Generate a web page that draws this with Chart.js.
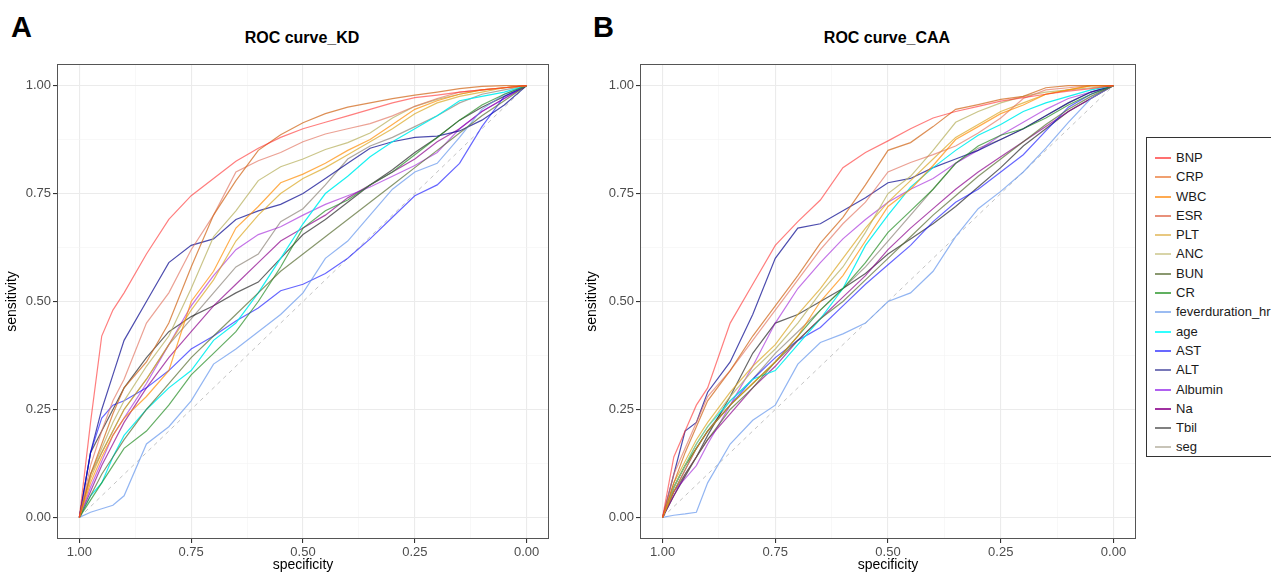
<!DOCTYPE html>
<html lang="en">
<head>
<meta charset="UTF-8">
<title>ROC curves KD / CAA</title>
<script src="https://cdn.jsdelivr.net/npm/chart.js"></script>
<style>
    body {
        margin: 0;
        width: 1271px;
        height: 574px;
        overflow: hidden;
        background: #fff;
        font-family: 'Liberation Sans', Arial, sans-serif;
        position: relative;
    }
    canvas { position: absolute; top: 0; }
    .tag { position: absolute; font-weight: bold; font-size: 29px; line-height: 1; color: #000; }
    .ttl { position: absolute; font-weight: bold; font-size: 16px; line-height: 1; color: #000; transform: translateX(-50%); white-space: nowrap; }
    #legend {
        position: absolute; left: 1146px; top: 137px; width: 140px; height: 320px;
        border: 1px solid #333; box-sizing: border-box; padding-top: 10px;
    }
    .item { position: relative; height: 19.3px; font-size: 13px; line-height: 19.3px; color: #1a1a1a; }
    .item span.sw { position: absolute; left: 8px; top: 9px; width: 16px; height: 2px; }
    .item span.lb { position: absolute; left: 29px; }
</style>
</head>
<body>
<div class="tag" style="left:11px; top:13px;">A</div>
<div class="tag" style="left:593px; top:13px;">B</div>
<div class="ttl" style="left:302px; top:30px;">ROC curve_KD</div>
<div class="ttl" style="left:887px; top:30px;">ROC curve_CAA</div>
<canvas id="kd" width="560" height="574" style="left:0px"></canvas>
<canvas id="caa" width="560" height="574" style="left:580px"></canvas>
<div id="legend"></div>

<script>
// specificity grid shared by every curve (x axis, reversed)
const spec = [1, 0.975, 0.95, 0.925, 0.9, 0.85, 0.8, 0.75, 0.7, 0.65, 0.6, 0.55, 0.5, 0.45, 0.4, 0.35, 0.3, 0.25, 0.2, 0.15, 0.1, 0.05, 0];

const markers = ['BNP', 'CRP', 'WBC', 'ESR', 'PLT', 'ANC', 'BUN', 'CR', 'feverduration_hr', 'age', 'AST', 'ALT', 'Albumin', 'Na', 'Tbil', 'seg'];
const lineColors = [
    'rgba(255,40,40,0.6)', 'rgba(210,105,30,0.75)', 'rgba(255,140,0,0.7)', 'rgba(225,110,90,0.65)',
    'rgba(218,165,32,0.7)', 'rgba(189,183,107,0.8)', 'rgba(85,107,47,0.7)', 'rgba(34,139,34,0.7)',
    'rgba(100,149,237,0.7)', 'rgba(0,240,240,0.9)', 'rgba(0,0,255,0.6)', 'rgba(0,0,139,0.7)',
    'rgba(148,0,211,0.55)', 'rgba(139,0,139,0.7)', 'rgba(0,0,0,0.6)', 'rgba(139,131,120,0.7)'
];
// lighter swatches as they appear in the legend
const swatchColors = [
    '#ff7070', '#f0a070', '#ffaa50', '#e8907a', '#e8c880', '#d8d4a8', '#8a9870', '#60b060',
    '#9bbcf2', '#30ffff', '#6868ff', '#7878b8', '#b060f0', '#a030a0', '#808080', '#c8c4b8'
];

// panel A: KD (sensitivity at each spec value)
const kdBNP     = [0, 0.22, 0.42, 0.48, 0.52, 0.61, 0.69, 0.745, 0.785, 0.825, 0.855, 0.88, 0.9, 0.915, 0.93, 0.945, 0.96, 0.972, 0.978, 0.985, 0.99, 0.995, 1];
const kdCRP     = [0, 0.1, 0.17, 0.24, 0.3, 0.36, 0.45, 0.58, 0.7, 0.78, 0.85, 0.886, 0.914, 0.935, 0.95, 0.96, 0.97, 0.978, 0.985, 0.993, 0.998, 1, 1];
const kdWBC     = [0, 0.08, 0.14, 0.19, 0.23, 0.28, 0.34, 0.5, 0.57, 0.67, 0.72, 0.775, 0.795, 0.82, 0.85, 0.875, 0.91, 0.945, 0.965, 0.98, 0.99, 0.995, 1];
const kdESR     = [0, 0.12, 0.2, 0.27, 0.32, 0.45, 0.52, 0.62, 0.7, 0.8, 0.826, 0.845, 0.87, 0.888, 0.9, 0.912, 0.93, 0.952, 0.97, 0.985, 0.99, 0.995, 1];
const kdPLT     = [0, 0.09, 0.15, 0.2, 0.25, 0.32, 0.4, 0.48, 0.55, 0.64, 0.7, 0.75, 0.785, 0.81, 0.84, 0.87, 0.9, 0.935, 0.96, 0.975, 0.985, 0.995, 1];
const kdANC     = [0, 0.1, 0.16, 0.22, 0.27, 0.35, 0.42, 0.53, 0.65, 0.71, 0.78, 0.812, 0.83, 0.852, 0.868, 0.89, 0.925, 0.952, 0.968, 0.98, 0.99, 0.995, 1];
const kdBUN     = [0, 0.05, 0.1, 0.14, 0.18, 0.25, 0.31, 0.37, 0.42, 0.47, 0.52, 0.57, 0.61, 0.65, 0.69, 0.73, 0.77, 0.81, 0.85, 0.89, 0.93, 0.965, 1];
const kdCR      = [0, 0.04, 0.08, 0.12, 0.16, 0.2, 0.26, 0.33, 0.38, 0.43, 0.5, 0.58, 0.67, 0.71, 0.735, 0.77, 0.8, 0.84, 0.88, 0.92, 0.955, 0.98, 1];
const kdFever   = [0, 0.012, 0.02, 0.028, 0.05, 0.17, 0.21, 0.27, 0.355, 0.39, 0.43, 0.47, 0.52, 0.6, 0.64, 0.7, 0.76, 0.8, 0.82, 0.88, 0.945, 0.98, 1];
const kdAge     = [0, 0.05, 0.08, 0.14, 0.19, 0.25, 0.3, 0.34, 0.41, 0.45, 0.52, 0.6, 0.68, 0.75, 0.79, 0.835, 0.87, 0.9, 0.93, 0.965, 0.975, 0.985, 1];
const kdAST     = [0, 0.15, 0.23, 0.26, 0.27, 0.3, 0.34, 0.39, 0.42, 0.455, 0.485, 0.525, 0.54, 0.565, 0.6, 0.645, 0.695, 0.745, 0.77, 0.82, 0.905, 0.975, 1];
const kdALT     = [0, 0.15, 0.25, 0.33, 0.41, 0.5, 0.59, 0.63, 0.645, 0.69, 0.71, 0.725, 0.75, 0.785, 0.82, 0.855, 0.87, 0.88, 0.883, 0.895, 0.92, 0.955, 1];
const kdAlbumin = [0, 0.07, 0.13, 0.19, 0.23, 0.31, 0.4, 0.49, 0.56, 0.62, 0.655, 0.673, 0.7, 0.725, 0.745, 0.765, 0.79, 0.815, 0.845, 0.9, 0.94, 0.97, 1];
const kdNa      = [0, 0.06, 0.12, 0.17, 0.22, 0.3, 0.37, 0.43, 0.49, 0.54, 0.59, 0.64, 0.67, 0.7, 0.74, 0.77, 0.8, 0.83, 0.87, 0.9, 0.94, 0.97, 1];
const kdTbil    = [0, 0.15, 0.2, 0.25, 0.3, 0.37, 0.43, 0.465, 0.49, 0.52, 0.545, 0.6, 0.655, 0.69, 0.73, 0.77, 0.805, 0.845, 0.88, 0.92, 0.95, 0.975, 1];
const kdSeg     = [0, 0.1, 0.15, 0.2, 0.25, 0.32, 0.4, 0.46, 0.52, 0.58, 0.61, 0.685, 0.715, 0.77, 0.83, 0.86, 0.88, 0.905, 0.93, 0.96, 0.98, 0.99, 1];

// panel B: CAA
const caaBNP     = [0, 0.14, 0.2, 0.26, 0.3, 0.45, 0.54, 0.63, 0.685, 0.735, 0.81, 0.845, 0.872, 0.9, 0.925, 0.94, 0.952, 0.964, 0.972, 0.98, 0.987, 0.993, 1];
const caaCRP     = [0, 0.08, 0.15, 0.21, 0.27, 0.34, 0.42, 0.49, 0.56, 0.635, 0.695, 0.77, 0.85, 0.868, 0.905, 0.945, 0.956, 0.968, 0.975, 0.995, 1, 1, 1];
const caaWBC     = [0, 0.06, 0.11, 0.16, 0.2, 0.26, 0.31, 0.36, 0.42, 0.5, 0.56, 0.64, 0.72, 0.76, 0.815, 0.875, 0.905, 0.935, 0.955, 0.98, 0.99, 1, 1];
const caaESR     = [0, 0.1, 0.16, 0.22, 0.28, 0.34, 0.41, 0.48, 0.55, 0.62, 0.68, 0.73, 0.8, 0.822, 0.84, 0.86, 0.89, 0.925, 0.97, 0.99, 0.995, 1, 1];
const caaPLT     = [0, 0.08, 0.13, 0.18, 0.22, 0.29, 0.35, 0.4, 0.47, 0.53, 0.6, 0.67, 0.73, 0.78, 0.83, 0.88, 0.91, 0.94, 0.96, 0.98, 0.99, 1, 1];
const caaANC     = [0, 0.07, 0.12, 0.17, 0.21, 0.28, 0.34, 0.39, 0.45, 0.52, 0.58, 0.66, 0.75, 0.79, 0.85, 0.915, 0.94, 0.96, 0.975, 0.985, 0.99, 0.995, 1];
const caaBUN     = [0, 0.06, 0.1, 0.14, 0.18, 0.25, 0.3, 0.36, 0.41, 0.46, 0.5, 0.55, 0.6, 0.65, 0.7, 0.745, 0.79, 0.83, 0.87, 0.91, 0.945, 0.975, 1];
const caaCR      = [0, 0.07, 0.12, 0.16, 0.2, 0.26, 0.31, 0.36, 0.42, 0.48, 0.53, 0.59, 0.66, 0.71, 0.76, 0.82, 0.86, 0.885, 0.9, 0.925, 0.955, 0.98, 1];
const caaFever   = [0, 0.005, 0.008, 0.012, 0.08, 0.17, 0.225, 0.26, 0.355, 0.405, 0.425, 0.45, 0.5, 0.52, 0.57, 0.65, 0.715, 0.755, 0.8, 0.855, 0.915, 0.97, 1];
const caaAge     = [0, 0.07, 0.12, 0.17, 0.21, 0.27, 0.32, 0.34, 0.4, 0.46, 0.53, 0.63, 0.7, 0.765, 0.81, 0.85, 0.885, 0.91, 0.94, 0.96, 0.975, 0.99, 1];
const caaAST     = [0, 0.06, 0.11, 0.16, 0.2, 0.26, 0.32, 0.37, 0.41, 0.44, 0.49, 0.54, 0.585, 0.63, 0.685, 0.73, 0.76, 0.8, 0.84, 0.895, 0.95, 0.98, 1];
const caaALT     = [0, 0.1, 0.2, 0.22, 0.29, 0.36, 0.47, 0.6, 0.67, 0.68, 0.71, 0.74, 0.775, 0.785, 0.81, 0.83, 0.85, 0.875, 0.9, 0.93, 0.96, 0.985, 1];
const caaAlbumin = [0, 0.06, 0.09, 0.12, 0.17, 0.26, 0.35, 0.45, 0.53, 0.59, 0.645, 0.69, 0.73, 0.76, 0.785, 0.82, 0.85, 0.885, 0.915, 0.945, 0.97, 0.985, 1];
const caaNa      = [0, 0.05, 0.1, 0.14, 0.18, 0.24, 0.3, 0.35, 0.41, 0.46, 0.51, 0.56, 0.62, 0.67, 0.715, 0.76, 0.8, 0.835, 0.87, 0.905, 0.94, 0.97, 1];
const caaTbil    = [0, 0.05, 0.095, 0.14, 0.19, 0.28, 0.38, 0.45, 0.47, 0.5, 0.53, 0.565, 0.61, 0.645, 0.68, 0.72, 0.765, 0.81, 0.86, 0.9, 0.94, 0.97, 1];
const caaSeg     = [0, 0.07, 0.12, 0.16, 0.2, 0.27, 0.32, 0.38, 0.43, 0.48, 0.53, 0.58, 0.64, 0.7, 0.76, 0.82, 0.855, 0.875, 0.9, 0.93, 0.96, 0.985, 1];

const kdCurves  = [kdBNP, kdCRP, kdWBC, kdESR, kdPLT, kdANC, kdBUN, kdCR, kdFever, kdAge, kdAST, kdALT, kdAlbumin, kdNa, kdTbil, kdSeg];
const caaCurves = [caaBNP, caaCRP, caaWBC, caaESR, caaPLT, caaANC, caaBUN, caaCR, caaFever, caaAge, caaAST, caaALT, caaAlbumin, caaNa, caaTbil, caaSeg];

// reference diagonal
const diagX = [1, 0];
const diagY = [0, 1];

const tickVals = [0, 0.125, 0.25, 0.375, 0.5, 0.625, 0.75, 0.875, 1];
const isMajor = v => Math.abs(v * 4 - Math.round(v * 4)) < 1e-6;

const boxPlugin = {
    id: 'box',
    afterDraw(chart) {
        const a = chart.chartArea, c = chart.ctx;
        c.save();
        c.strokeStyle = '#555';
        c.lineWidth = 1;
        c.strokeRect(a.left + 0.5, a.top + 0.5, a.right - a.left - 1, a.bottom - a.top - 1);
        c.restore();
    }
};

function axis(titleText, isX, size) {
    return {
        type: 'linear',
        reverse: isX,
        min: -0.05,
        max: 1.05,
        afterBuildTicks: s => { s.ticks = tickVals.map(v => ({ value: v })); },
        afterFit: s => { if (isX) s.height = size; else s.width = size; },
        border: { display: false },
        grid: {
            color: c => isMajor(c.tick.value) ? '#ebebeb' : '#f4f4f4',
            lineWidth: c => isMajor(c.tick.value) ? 1.1 : 0.6,
            tickColor: c => isMajor(c.tick.value) ? '#333' : 'rgba(0,0,0,0)',
            tickLength: 4
        },
        ticks: {
            autoSkip: false,
            maxRotation: 0,
            padding: 2,
            color: '#4d4d4d',
            font: { family: 'Liberation Sans', size: 13 },
            callback: v => isMajor(v) ? v.toFixed(2) : ''
        },
        title: {
            display: true,
            text: titleText,
            color: '#000',
            font: { family: 'Liberation Sans', size: 14 },
            padding: { top: 0, bottom: 0 }
        }
    };
}

function makeChart(id, curves, yWidth, padRight) {
    const datasets = curves.map((sens, i) => ({
        label: markers[i],
        data: spec.map((s, k) => ({ x: s, y: sens[k] })),
        borderColor: lineColors[i],
        borderWidth: 1.2,
        pointRadius: 0,
        showLine: true,
        tension: 0
    }));
    datasets.push({
        label: 'diag',
        data: diagX.map((x, k) => ({ x: x, y: diagY[k] })),
        borderColor: '#c4c4c4',
        borderDash: [4, 4],
        borderWidth: 1,
        pointRadius: 0,
        showLine: true
    });
    return new Chart(document.getElementById(id), {
        type: 'scatter',
        data: { datasets: datasets },
        options: {
            responsive: false,
            animation: false,
            layout: { padding: { top: 64, right: padRight, left: 4, bottom: 0 } },
            plugins: { legend: { display: false }, tooltip: { enabled: false } },
            scales: {
                x: axis('specificity', true, 35),
                y: axis('sensitivity', false, yWidth)
            }
        },
        plugins: [boxPlugin]
    });
}

makeChart('kd', kdCurves, 53, 11);
makeChart('caa', caaCurves, 56, 4);

// legend
const leg = document.getElementById('legend');
markers.forEach((m, i) => {
    const row = document.createElement('div');
    row.className = 'item';
    row.innerHTML = '<span class="sw" style="background:' + swatchColors[i] + '"></span><span class="lb">' + m + '</span>';
    leg.appendChild(row);
});
</script>
</body>
</html>
